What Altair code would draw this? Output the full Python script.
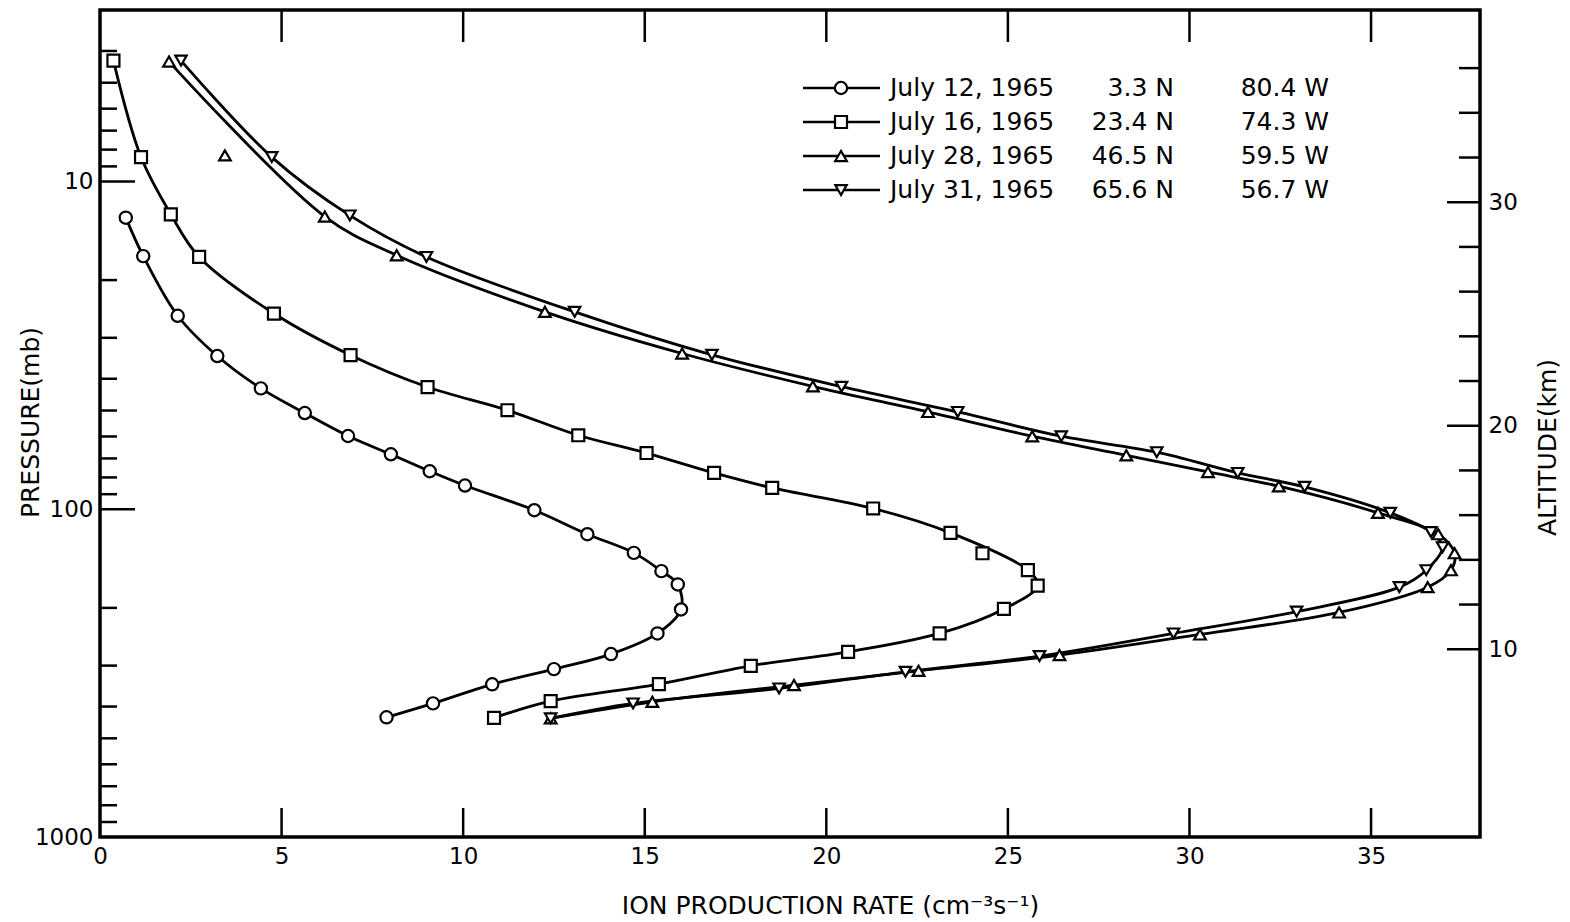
import altair as alt
import pandas as pd

# ---------------- data ----------------
series_names = ["July 12, 1965", "July 16, 1965", "July 28, 1965", "July 31, 1965"]
legend_lat = ["3.3 N", "23.4 N", "46.5 N", "65.6 N"]
legend_lon = ["80.4 W", "74.3 W", "59.5 W", "56.7 W"]

jul12_rate = [0.71, 1.19, 2.14, 3.23, 4.43, 5.64, 6.83, 8.01, 9.08, 10.05, 11.96, 13.42,
              14.70, 15.46, 15.91, 16.00, 15.35, 14.07, 12.50, 10.80, 9.17, 7.89]
jul12_pres = [12.9, 16.9, 25.7, 34.1, 42.8, 50.9, 59.8, 68.0, 76.6, 84.7, 100.7, 119.2,
              135.9, 154.5, 169.6, 202.2, 239.3, 276.7, 307.5, 342.2, 391.2, 431.5]

jul16_rate = [0.37, 1.13, 1.95, 2.73, 4.79, 6.90, 9.02, 11.22, 13.17, 15.05, 16.91, 18.51,
              21.29, 23.42, 24.30, 25.55, 25.82, 24.89, 23.12, 20.60, 17.92, 15.39, 12.41, 10.85]
jul16_pres = [4.28, 8.43, 12.6, 17.0, 25.3, 33.9, 42.4, 49.9, 59.5, 67.4, 77.5, 86.1,
              99.5, 118.1, 136.3, 153.5, 171.1, 201.5, 239.3, 272.3, 300.4, 341.6, 384.9, 432.9]

jul28_rate = [1.90, 3.44, 6.19, 8.17, 12.25, 16.03, 19.63, 22.80, 25.67, 28.26, 30.51, 32.46,
              35.19, 36.85, 37.30, 37.20, 36.56, 34.12, 30.29, 26.42, 22.54, 19.11, 15.21, 12.41]
jul28_pres = [4.31, 8.33, 12.8, 16.8, 25.0, 33.5, 42.2, 50.5, 59.9, 68.5, 77.0, 85.1,
              102.6, 119.2, 136.2, 153.5, 172.9, 206.5, 241.0, 278.7, 311.2, 344.1, 386.9, 434.6]

jul31_rate = [2.23, 4.73, 6.88, 8.99, 13.07, 16.85, 20.42, 23.62, 26.47, 29.10, 31.33, 33.17,
              35.53, 36.65, 36.97, 36.52, 35.78, 32.95, 29.56, 25.87, 22.18, 18.70, 14.68, 12.41]
jul31_pres = [4.28, 8.43, 12.7, 17.0, 25.0, 33.8, 42.3, 50.5, 59.9, 67.0, 77.5, 85.5,
              102.6, 117.5, 130.6, 153.5, 172.9, 205.3, 239.3, 280.7, 313.3, 352.2, 391.3, 434.6]

# markers that the hand-drawn curves do not pass through (series, pressure)
off_curve = [("July 28, 1965", 8.33), ("July 16, 1965", 136.3)]

# axis ticks / labels
x_labels = [0, 5, 10, 15, 20, 25, 30, 35]
x_ticks = [5, 10, 15, 20, 25, 30, 35]
p_labels = [10, 100, 1000]
p_major = [10, 100]
p_minor = [4, 5, 6, 7, 8, 9, 20, 30, 40, 50, 60, 70, 80, 90,
           200, 300, 400, 500, 600, 700, 800, 900]
alt_labels = [10, 20, 30]
alt_minor = [12, 14, 16, 18, 22, 24, 26, 28, 32, 34, 36]

# ---------------- tables ----------------
rows = []
for name, rates, pres in [(series_names[0], jul12_rate, jul12_pres),
                          (series_names[1], jul16_rate, jul16_pres),
                          (series_names[2], jul28_rate, jul28_pres),
                          (series_names[3], jul31_rate, jul31_pres)]:
    for i, (r, p) in enumerate(zip(rates, pres)):
        rows.append({"series": name, "rate": r, "pres": p, "idx": i,
                     "on_line": (name, p) not in off_curve})
df = pd.DataFrame(rows)

legend_df = pd.DataFrame({"row": list(range(len(series_names))), "series": series_names,
                          "lat": legend_lat, "lon": legend_lon})

W, H = 1380, 827
FONT = "DejaVu Sans"

x_scale = alt.Scale(domain=[0, 38], nice=False, zero=False)
p_scale = alt.Scale(type="log", domain=[3, 1000], reverse=True, nice=False)
alt_scale = alt.Scale(domain=[1.6, 38.6], nice=False, zero=False)
shape_scale = alt.Scale(domain=series_names,
                        range=["circle", "square", "triangle-up", "triangle-down"])
size_scale = alt.Scale(domain=series_names, range=[150, 130, 100, 100])

x_axis = alt.Axis(values=x_labels, title="ION PRODUCTION RATE (cm⁻³s⁻¹)", orient="bottom",
                  labelPadding=8, labelFlush=False, labelOverlap=False,
                  titleX=730, titleY=68, titleBaseline="middle")
p_axis = alt.Axis(values=p_labels, format="d", title="PRESSURE(mb)", orient="left",
                  labelPadding=7, labelOverlap=False,
                  titleX=-70, titleY=412, titleAngle=270, titleBaseline="middle")
alt_axis = alt.Axis(values=alt_labels, format="d", title="ALTITUDE(km)", orient="right",
                    labelPadding=8, labelOverlap=False,
                    titleX=67, titleY=437, titleAngle=270, titleBaseline="middle")

# ---------------- data curves and markers ----------------
base = alt.Chart(df)
lines = base.transform_filter("datum.on_line").mark_line(
    interpolate="catmull-rom", color="black", strokeWidth=2.8
).encode(
    x=alt.X("rate:Q", scale=x_scale, axis=x_axis),
    y=alt.Y("pres:Q", scale=p_scale, axis=p_axis),
    detail="series:N",
    order=alt.Order("idx:Q"),
)
points = base.mark_point(filled=True, fill="white", stroke="black", strokeWidth=2.2,
                         fillOpacity=1, opacity=1).encode(
    x=alt.X("rate:Q", scale=x_scale, axis=x_axis),
    y=alt.Y("pres:Q", scale=p_scale, axis=None),
    shape=alt.Shape("series:N", scale=shape_scale, legend=None),
    size=alt.Size("series:N", scale=size_scale, legend=None),
)

# ---------------- inward tick marks ----------------
xt = alt.Chart(pd.DataFrame({"v": x_ticks}))
bottom_ticks = xt.mark_rule(color="black", strokeWidth=2.5).encode(
    x=alt.X("v:Q", scale=x_scale, axis=x_axis), y=alt.value(H - 29), y2=alt.value(H))
top_ticks = xt.mark_rule(color="black", strokeWidth=2.5).encode(
    x=alt.X("v:Q", scale=x_scale, axis=x_axis), y=alt.value(0), y2=alt.value(32))

left_major = alt.Chart(pd.DataFrame({"v": p_major})).mark_rule(
    color="black", strokeWidth=2.5).encode(
    y=alt.Y("v:Q", scale=p_scale, axis=None), x=alt.value(0), x2=alt.value(35))
left_minor = alt.Chart(pd.DataFrame({"v": p_minor})).mark_rule(
    color="black", strokeWidth=2.5).encode(
    y=alt.Y("v:Q", scale=p_scale, axis=None), x=alt.value(0), x2=alt.value(17))

right_major = alt.Chart(pd.DataFrame({"v": alt_labels})).mark_rule(
    color="black", strokeWidth=2.5).encode(
    y=alt.Y("v:Q", scale=alt_scale, axis=alt_axis), x=alt.value(W - 33), x2=alt.value(W))
right_minor = alt.Chart(pd.DataFrame({"v": alt_minor})).mark_rule(
    color="black", strokeWidth=2.5).encode(
    y=alt.Y("v:Q", scale=alt_scale, axis=None), x=alt.value(W - 21), x2=alt.value(W))

# ---------------- legend ----------------
leg_y = alt.Y("row:Q", scale=alt.Scale(domain=[0, 3], range=[78, 180], nice=False, zero=False),
              axis=None)
lg = alt.Chart(legend_df)
leg_line = lg.mark_rule(color="black", strokeWidth=2.4).encode(
    x=alt.value(703), x2=alt.value(780), y=leg_y)
leg_pt = lg.mark_point(filled=True, fill="white", stroke="black", strokeWidth=2.2,
                       fillOpacity=1, opacity=1).encode(
    x=alt.value(741), y=leg_y,
    shape=alt.Shape("series:N", scale=shape_scale, legend=None),
    size=alt.Size("series:N", scale=size_scale, legend=None))
leg_date = lg.mark_text(align="left", baseline="middle", font=FONT, fontSize=25,
                        color="black").encode(x=alt.value(790), y=leg_y, text="series:N")
leg_lat = lg.mark_text(align="right", baseline="middle", font=FONT, fontSize=25,
                       color="black").encode(x=alt.value(1074), y=leg_y, text="lat:N")
leg_lon = lg.mark_text(align="right", baseline="middle", font=FONT, fontSize=25,
                       color="black").encode(x=alt.value(1229), y=leg_y, text="lon:N")

chart = alt.layer(
    lines, bottom_ticks, top_ticks, left_major, left_minor, points,
    right_major, right_minor,
    leg_line, leg_pt, leg_date, leg_lat, leg_lon,
).resolve_scale(
    y="independent"
).properties(
    width=W, height=H,
    autosize=alt.AutoSizeParams(type="none"),
    padding={"left": 92, "top": 2, "right": 80, "bottom": 84},
    background="white",
).configure_view(
    stroke="black", strokeWidth=3.5
).configure_axis(
    grid=False, domain=False, ticks=False, tickSize=0,
    labelFont=FONT, labelFontSize=23, labelColor="black",
    titleFont=FONT, titleFontSize=25, titleFontWeight="normal", titleColor="black",
)

chart.save("out.html", embed_options={"renderer": "svg", "actions": False})
